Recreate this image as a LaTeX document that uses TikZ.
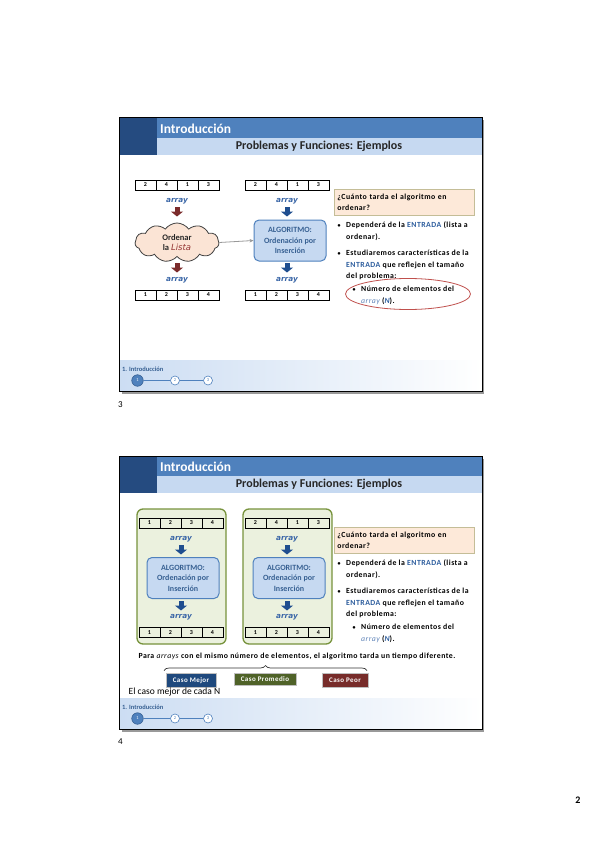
\documentclass[tikz,border=0pt]{standalone}
\usepackage{fontspec}
\setmainfont{Carlito}
\newfontfamily\arrfont{DejaVu Sans}
\newfontfamily\bodyfont[LetterSpace=6]{Carlito}
\usetikzlibrary{shapes.symbols,shapes.geometric,arrows.meta,positioning,decorations.pathreplacing}
\definecolor{hdrdark}{HTML}{254B80}
\definecolor{hdrmid}{HTML}{4F81BD}
\definecolor{hdrlight}{HTML}{C6D9F1}
\definecolor{algfill}{HTML}{C6D9F1}
\definecolor{algdraw}{HTML}{4F81BD}
\definecolor{algtext}{HTML}{376092}
\definecolor{arrblue}{HTML}{1F4E8F}
\definecolor{arrred}{HTML}{7B2B2B}
\definecolor{peach}{HTML}{FDE9D9}
\definecolor{cloudfill}{HTML}{FBE4D5}
\definecolor{qdraw}{HTML}{C4BD97}
\definecolor{panelfill}{HTML}{EBF1DE}
\definecolor{paneldraw}{HTML}{77933C}
\definecolor{mejor}{HTML}{1F497D}
\definecolor{promedio}{HTML}{4F6228}
\definecolor{peor}{HTML}{772C2A}
\definecolor{entrada}{HTML}{2E5E9E}
\definecolor{lbltext}{HTML}{3A66A7}
\definecolor{ovalred}{HTML}{C0504D}
\definecolor{listared}{HTML}{953735}
\tikzset{
  cell/.style={draw, line width=0.7pt, minimum width=21pt, minimum height=10pt, inner sep=0pt, outer sep=0pt, font=\fontsize{6}{6}\selectfont\bfseries},
  arrlbl/.style={font=\arrfont\bfseries\itshape\fontsize{7.3}{8}\selectfont, text=lbltext, inner sep=0pt},
  blockblue/.style={arrblue, line width=5pt, -{Triangle[width=12pt,length=5pt]}},
  blockred/.style={arrred, line width=5pt, -{Triangle[width=12pt,length=5pt]}},
  algbox/.style={draw=algdraw, fill=algfill, line width=1pt, rounded corners=5pt, minimum width=72pt, minimum height=41pt, align=center, text=algtext, font=\bfseries\fontsize{8}{10.5}\selectfont, inner sep=1pt},
  body/.style={font=\bodyfont\bfseries\fontsize{7.8}{11.6}\selectfont, align=left, inner sep=0pt, anchor=north west},
  bul/.style={font=\bfseries\fontsize{6}{6}\selectfont, inner sep=0pt},
  caso/.style={draw=white!75!black, line width=0.6pt, text=white, font=\bodyfont\bfseries\fontsize{7}{8}\selectfont, inner sep=0pt},
}
\newcommand\arrrow[6]{%
  \node[cell, anchor=west] (#1a) at (#2,#3) {#4};
  \node[cell, right=0pt of #1a] (#1b) {#5};
  \node[cell, right=0pt of #1b] (#1c) {#6};
}
\newcommand\slideframe[1]{%
  \fill[black!40] (121.5,120.5) rectangle (484,393.5);
  \fill[white] (119,118) rectangle (482,391);
  \fill[left color=hdrlight!90, right color=white] (119,360) rectangle (482,391);
  \fill[hdrdark] (119,118) rectangle (157,155);
  \fill[hdrmid] (157,118) rectangle (482,138);
  \fill[hdrlight] (157,138) rectangle (482,155);
  \draw[line width=1pt] (119,118) rectangle (482,391);
  \node[anchor=west, text=white, inner sep=0pt, font=\bfseries\fontsize{13.5}{14}\selectfont] (#1title) at (160,128.5) {Introducción};
  \node[text=black!85, inner sep=0pt, font=\bfseries\fontsize{12}{13}\selectfont] (#1sub) at (319,146.5) {Problemas y Funciones: Ejemplos};
  \node[anchor=west, inner sep=0pt, text=algtext, font=\bfseries\fontsize{6.5}{7}\selectfont] (#1foot) at (122,369) {1. Introducción};
  \node[circle, fill=hdrmid, draw=algtext, line width=0.6pt, minimum size=11.5pt, inner sep=0pt, text=white, font=\fontsize{4.5}{4.5}\selectfont] (#1ca) at (137.5,380.5) {1};
  \node[circle, fill=white, draw=hdrmid, line width=0.6pt, minimum size=9pt, inner sep=0pt, text=hdrmid, font=\fontsize{4.5}{4.5}\selectfont] (#1cb) at (175,380.5) {2};
  \node[circle, fill=white, draw=hdrmid, line width=0.6pt, minimum size=9pt, inner sep=0pt, text=hdrmid, font=\fontsize{4.5}{4.5}\selectfont] (#1cc) at (208,380.5) {3};
  \draw[hdrmid, line width=0.7pt] (#1ca) -- (#1cb);
  \draw[hdrmid, line width=0.7pt] (#1cb) -- (#1cc);
}
\newcommand\rightcol[1]{%
  \node[body, fill=peach, draw=qdraw, line width=0.8pt, text width=134pt, minimum height=26pt, inner xsep=3pt, inner ysep=2.5pt, anchor=north west] (#1q) at (334,189) {¿Cuánto tarda el algoritmo en\\ordenar?};
  \node[bul] (#1b1) at (339,226) {•};
  \node[body] (#1t1) at (346,221.5) {Dependerá de la \textcolor{entrada}{ENTRADA} (lista a\\ordenar).};
  \node[bul] (#1b2) at (339,254.5) {•};
  \node[body] (#1t2) at (346,250) {Estudiaremos características de la\\\textcolor{entrada}{ENTRADA} que reflejen el tamaño\\del problema:};
  \node[bul] (#1b3) at (354,290.5) {•};
  \node[body] (#1t3) at (361,286) {Número de elementos del\\{\mdseries\itshape\color{lbltext!80}array} (\textcolor{entrada}{\itshape N}).};
}
\begin{document}
\begin{tikzpicture}[x=1pt,y=-1pt]
\useasboundingbox (0,0) rectangle (599,848);
\fill[white] (0,0) rectangle (599,848);
% ---------------- slide 3 ----------------
\slideframe{s}
\arrrow{ia}{135}{185}{2}{4}{1}
\node[cell, right=0pt of iac] (iad) {3};
\arrrow{ja}{245}{185}{2}{4}{1}
\node[cell, right=0pt of jac] (jad) {3};
\node[arrlbl] (il) at (177,201) {array};
\node[arrlbl] (jl) at (287,201) {array};
\node[cloud, cloud puffs=11, cloud puff arc=110, aspect=2.3, draw=black!75, line width=0.8pt, fill=cloudfill, minimum width=84pt, minimum height=39pt, inner sep=0pt, align=center, font=\bfseries\fontsize{8.5}{10.5}\selectfont, text=black!85] (cl) at (177,242.5) {Ordenar\\la {\arrfont\mdseries\itshape\color{listared}Lista}};
\node[algbox] (alg) at (290,240.5) {ALGORITMO:\\Ordenación por\\Inserción};
\draw[black!40, line width=0.8pt, -{Stealth[length=4pt,width=3.5pt]}] (cl.east) -- (alg.west);
\coordinate (ra1) at (177,207); \coordinate (ra2) at (177,216.5);
\coordinate (ra3) at (177,263); \coordinate (ra4) at (177,272.5);
\coordinate (ba1) at (287,207); \coordinate (ba2) at (287,216.5);
\coordinate (ba3) at (287,263); \coordinate (ba4) at (287,272.5);
\draw[blockred] (ra1) -- (ra2);
\draw[blockred] (ra3) -- (ra4);
\draw[blockblue] (ba1) -- (ba2);
\draw[blockblue] (ba3) -- (ba4);
\node[arrlbl] (kl) at (177,280) {array};
\node[arrlbl] (ll) at (287,280) {array};
\arrrow{ka}{135}{295}{1}{2}{3}
\node[cell, right=0pt of kac] (kad) {4};
\arrrow{la}{245}{295}{1}{2}{3}
\node[cell, right=0pt of lac] (lad) {4};
\rightcol{s}
\node[ellipse, draw=ovalred, line width=0.8pt, minimum width=125pt, minimum height=31pt] (oval) at (408,294) {};
\node[anchor=west, inner sep=0pt, font=\fontsize{9}{10}\selectfont] (p3) at (118,405) {3};
% ---------------- slide 4 ----------------
\begin{scope}[shift={(0,338)}]
\slideframe{t}
\node[draw=paneldraw, fill=panelfill, line width=1.3pt, rounded corners=6pt, minimum width=89pt, minimum height=135pt] (pa) at (181.5,238.5) {};
\node[draw=paneldraw, fill=panelfill, line width=1.3pt, rounded corners=6pt, minimum width=89pt, minimum height=135pt] (pb) at (287.5,238.5) {};
\arrrow{ma}{139}{185}{1}{2}{3}
\node[cell, right=0pt of mac] (mad) {4};
\arrrow{na}{245}{185}{2}{4}{1}
\node[cell, right=0pt of nac] (nad) {3};
\node[arrlbl] (ml) at (181,201) {array};
\node[arrlbl] (nl) at (287,201) {array};
\node[algbox] (algm) at (183,240) {ALGORITMO:\\Ordenación por\\Inserción};
\node[algbox] (algn) at (289,240) {ALGORITMO:\\Ordenación por\\Inserción};
\coordinate (ma1) at (181,207); \coordinate (ma2) at (181,216.5);
\coordinate (ma3) at (181,263); \coordinate (ma4) at (181,272.5);
\coordinate (na1) at (287,207); \coordinate (na2) at (287,216.5);
\coordinate (na3) at (287,263); \coordinate (na4) at (287,272.5);
\draw[blockblue] (ma1) -- (ma2);
\draw[blockblue] (ma3) -- (ma4);
\draw[blockblue] (na1) -- (na2);
\draw[blockblue] (na3) -- (na4);
\node[arrlbl] (ol) at (181,279.5) {array};
\node[arrlbl] (pl) at (287,279.5) {array};
\arrrow{oa}{139}{294.5}{1}{2}{3}
\node[cell, right=0pt of oac] (oad) {4};
\arrrow{pa}{245}{294.5}{1}{2}{3}
\node[cell, right=0pt of pac] (pad) {4};
\rightcol{t}
\node[inner sep=0pt, font=\bodyfont\bfseries\fontsize{7.8}{8}\selectfont] (para) at (297,318) {Para {\mdseries\itshape arrays} con el mismo número de elementos, el algoritmo tarda un tiempo diferente.};
\coordinate (brl) at (164,332.5);
\coordinate (brr) at (367,332.5);
\draw[black!80, line width=0.7pt, decorate, decoration={brace, amplitude=5pt}] (brl) -- (brr);
\node[caso, fill=mejor, minimum width=50pt, minimum height=14pt] (cm) at (191,342.5) {Caso Mejor};
\node[caso, fill=promedio, minimum width=62pt, minimum height=12.5pt] (cp) at (265,341.5) {Caso Promedio};
\node[caso, fill=peor, minimum width=46pt, minimum height=14pt] (cw) at (345,342.5) {Caso Peor};
\node[anchor=west, inner sep=0pt, font=\fontsize{9.5}{10}\selectfont] (ecm) at (128.5,354) {El caso mejor de cada N};
\node[anchor=west, inner sep=0pt, font=\fontsize{9}{10}\selectfont] (p4) at (118,404) {4};
\end{scope}
\node[inner sep=0pt, font=\bfseries\fontsize{10}{11}\selectfont] (p2) at (578,800) {2};
\end{tikzpicture}
\end{document}
